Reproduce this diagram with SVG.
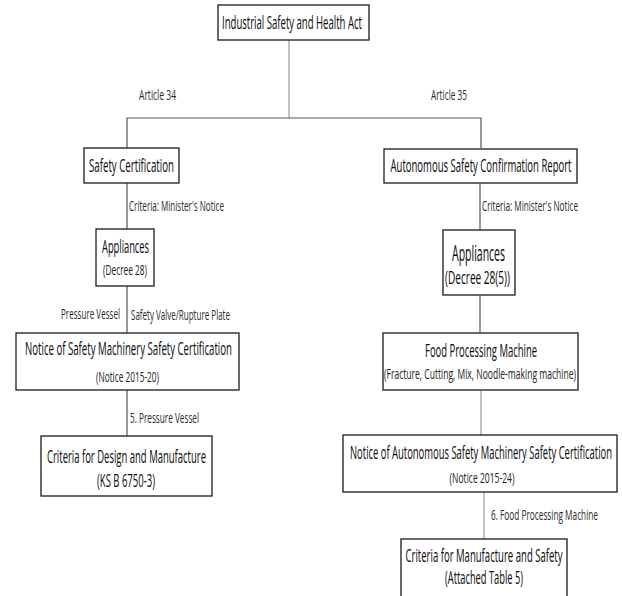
<svg xmlns="http://www.w3.org/2000/svg" width="622" height="596" viewBox="0 0 622 596">
<style>
.box{fill:#fff;stroke:#2a2a2a;stroke-width:1.4}
.t{font-family:"Open Sans","Noto Sans",sans-serif;fill:#0a0a0a;text-anchor:middle}
.m{font-size:19px}
.s{font-size:15px}
.l{font-family:"Open Sans","Noto Sans",sans-serif;fill:#2a2a2a;font-size:15px}
.c{fill:none;stroke:#555;stroke-width:1.2}
.c2{fill:none;stroke:#999;stroke-width:1.2}
</style>
<rect width="622" height="596" fill="#fff"/>
<g id="connectors">
<line class="c2" x1="289" y1="40" x2="289" y2="118"/>
<polyline class="c" points="127,148 127,118 481,118 481,148"/>
<line class="c" x1="127" y1="183" x2="127" y2="229"/>
<line class="c" x1="127" y1="286" x2="127" y2="333"/>
<line class="c" x1="127" y1="390" x2="127" y2="436"/>
<line class="c" x1="480" y1="183" x2="480" y2="230"/>
<line class="c" x1="480" y1="295" x2="480" y2="333"/>
<line class="c2" x1="481" y1="390" x2="481" y2="435"/>
<line class="c2" x1="484" y1="492" x2="484" y2="539"/>
<text class="l" x="139" y="100" textLength="37" lengthAdjust="spacingAndGlyphs">Article 34</text>
<text class="l" x="431" y="100" textLength="36" lengthAdjust="spacingAndGlyphs">Article 35</text>
<text class="l" x="129" y="211" textLength="95" lengthAdjust="spacingAndGlyphs">Criteria: Minister's Notice</text>
<text class="l" x="482" y="211" textLength="96" lengthAdjust="spacingAndGlyphs">Criteria: Minister's Notice</text>
<text class="l" x="61" y="319" textLength="59" lengthAdjust="spacingAndGlyphs">Pressure Vessel</text>
<text class="l" x="131" y="320" textLength="99" lengthAdjust="spacingAndGlyphs">Safety Valve/Rupture Plate</text>
<text class="l" x="130" y="423" textLength="69" lengthAdjust="spacingAndGlyphs">5. Pressure Vessel</text>
<text class="l" x="491" y="520" textLength="107" lengthAdjust="spacingAndGlyphs">6. Food Processing Machine</text>
</g>
<g id="n-act">
<rect class="box" x="218" y="5" width="151" height="35"/>
<text class="t m" x="292" y="29" textLength="140" lengthAdjust="spacingAndGlyphs">Industrial Safety and Health Act</text>
</g>
<g id="n-safety-cert">
<rect class="box" x="84" y="148" width="95" height="35"/>
<text class="t m" x="131.5" y="172" textLength="85" lengthAdjust="spacingAndGlyphs">Safety Certification</text>
</g>
<g id="n-autonomous">
<rect class="box" x="384" y="149" width="193" height="34"/>
<text class="t m" x="481" y="172" textLength="181" lengthAdjust="spacingAndGlyphs">Autonomous Safety Confirmation Report</text>
</g>
<g id="n-appliances-l">
<rect class="box" x="96" y="229" width="58" height="57"/>
<text class="t" style="font-size:19px" x="125.5" y="253" textLength="47" lengthAdjust="spacingAndGlyphs">Appliances</text>
<text class="t" style="font-size:15px;fill:#222" x="125" y="275" textLength="44" lengthAdjust="spacingAndGlyphs">(Decree 28)</text>
</g>
<g id="n-appliances-r">
<rect class="box" x="443" y="230" width="72" height="65"/>
<text class="t" style="font-size:22px" x="478.5" y="261" textLength="53" lengthAdjust="spacingAndGlyphs">Appliances</text>
<text class="t" style="font-size:18px" x="477.5" y="284" textLength="65" lengthAdjust="spacingAndGlyphs">(Decree 28(5))</text>
</g>
<g id="n-notice-l">
<rect class="box" x="16" y="333" width="223" height="57"/>
<text class="t m" x="128.5" y="355" textLength="207" lengthAdjust="spacingAndGlyphs">Notice of Safety Machinery Safety Certification</text>
<text class="t s" style="fill:#222" x="127.5" y="382" textLength="63" lengthAdjust="spacingAndGlyphs">(Notice 2015-20)</text>
</g>
<g id="n-criteria-l">
<rect class="box" x="41" y="436" width="171" height="60"/>
<text class="t m" x="126.5" y="463" textLength="159" lengthAdjust="spacingAndGlyphs">Criteria for Design and Manufacture</text>
<text class="t" style="font-size:18px" x="126" y="487" textLength="58" lengthAdjust="spacingAndGlyphs">(KS B 6750-3)</text>
</g>
<g id="n-food">
<rect class="box" x="383" y="333" width="195" height="57"/>
<text class="t m" x="481" y="357" textLength="112" lengthAdjust="spacingAndGlyphs">Food Processing Machine</text>
<text class="t s" style="fill:#222" x="480" y="379" textLength="192" lengthAdjust="spacingAndGlyphs">(Fracture, Cutting, Mix, Noodle-making machine)</text>
</g>
<g id="n-notice-r">
<rect class="box" x="343" y="435" width="274" height="57"/>
<text class="t m" x="481" y="459" textLength="262" lengthAdjust="spacingAndGlyphs">Notice of Autonomous Safety Machinery Safety Certification</text>
<text class="t s" style="fill:#222" x="482" y="483" textLength="65" lengthAdjust="spacingAndGlyphs">(Notice 2015-24)</text>
</g>
<g id="n-criteria-r">
<rect class="box" x="401" y="539" width="166" height="62"/>
<text class="t m" x="484" y="562" textLength="157" lengthAdjust="spacingAndGlyphs">Criteria for Manufacture and Safety</text>
<text class="t" style="font-size:18px" x="484" y="584" textLength="78" lengthAdjust="spacingAndGlyphs">(Attached Table 5)</text>
</g>
</svg>
